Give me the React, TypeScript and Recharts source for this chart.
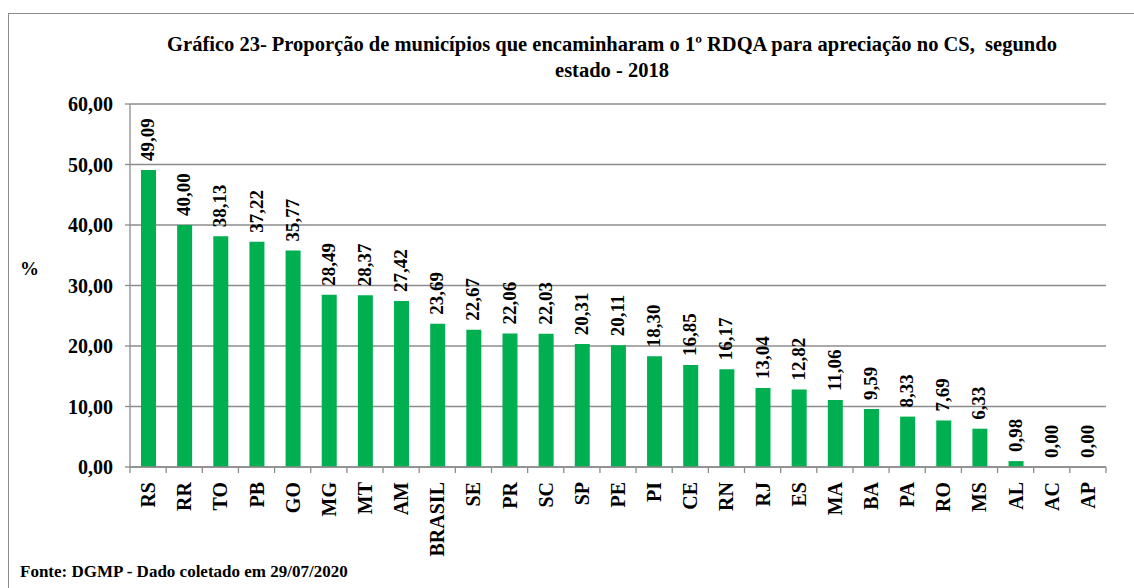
import React from 'react';
import { ComposedChart, Bar, Line, XAxis, YAxis, CartesianGrid } from 'recharts';

const estados = ['RS', 'RR', 'TO', 'PB', 'GO', 'MG', 'MT', 'AM', 'BRASIL', 'SE', 'PR', 'SC', 'SP', 'PE', 'PI', 'CE', 'RN', 'RJ', 'ES', 'MA', 'BA', 'PA', 'RO', 'MS', 'AL', 'AC', 'AP'];
const proporcao = [49.09, 40.0, 38.13, 37.22, 35.77, 28.49, 28.37, 27.42, 23.69, 22.67, 22.06, 22.03, 20.31, 20.11, 18.3, 16.85, 16.17, 13.04, 12.82, 11.06, 9.59, 8.33, 7.69, 6.33, 0.98, 0.0, 0.0];
const yTicks = [0, 10, 20, 30, 40, 50, 60];

const data = estados.map((uf, i) => ({ uf, valor: proporcao[i] }));

const fmt = (v: number) => v.toFixed(2).replace('.', ',');
const FONT = '"Liberation Serif", Tinos, "DejaVu Serif", serif';
const GRAY = '#8c8c8c';
const BAND = 976 / estados.length;

// rotated state label + tick mark on category boundary
const EstadoTick = (props: any) => {
  const { x, y, payload, index } = props;
  const last = index === estados.length - 1;
  return (
    <g>
      <line x1={x - BAND / 2} y1={y - 8} x2={x - BAND / 2} y2={y - 2} stroke={GRAY} strokeWidth={1.3} />
      {last && <line x1={x + BAND / 2} y1={y - 8} x2={x + BAND / 2} y2={y - 2} stroke={GRAY} strokeWidth={1.3} />}
      <text
        x={x + 7}
        y={y + 7}
        transform={`rotate(-90, ${x + 7}, ${y + 7})`}
        textAnchor="end"
        fontFamily={FONT}
        fontWeight="bold"
        fontSize={20}
        fill="#000"
      >
        {payload.value}
      </text>
    </g>
  );
};

// value label above each bar (drawn from an invisible line so zero values get one too)
const ValorLabel = (props: any) => {
  const { x, y, value } = props;
  const cx = x + 6;
  const cy = y - 9;
  return (
    <text
      x={cx}
      y={cy}
      transform={`rotate(-90, ${cx}, ${cy})`}
      textAnchor="start"
      fontFamily={FONT}
      fontWeight="bold"
      fontSize={19}
      fill="#000"
    >
      {fmt(Number(value))}
    </text>
  );
};

export default function App() {
  return (
    <div
      style={{
        position: 'fixed',
        left: 0,
        top: 0,
        width: 1134,
        height: 588,
        overflow: 'hidden',
        background: '#fff',
        fontFamily: FONT,
      }}
    >
      {/* chart frame (only top and left edges are visible) */}
      <div
        style={{
          position: 'absolute',
          left: 8,
          top: 13,
          width: 1200,
          height: 700,
          borderTop: `1.5px solid ${GRAY}`,
          borderLeft: `1.5px solid ${GRAY}`,
        }}
      />

      <div
        style={{
          position: 'absolute',
          left: 0,
          top: 31,
          width: 1224,
          textAlign: 'center',
          fontWeight: 'bold',
          fontSize: 20.5,
          lineHeight: '26px',
          color: '#000',
        }}
      >
        Gráfico 23- Proporção de municípios que encaminharam o 1º RDQA para apreciação no CS,&nbsp; segundo
        <br />
        estado - 2018
      </div>

      <div style={{ position: 'absolute', left: 20, top: 258, fontWeight: 'bold', fontSize: 19 }}>%</div>

      <div style={{ position: 'absolute', left: 20, top: 562, fontWeight: 'bold', fontSize: 17 }}>
        Fonte: DGMP - Dado coletado em 29/07/2020
      </div>

      <div style={{ position: 'absolute', left: 0, top: 0 }}>
        <ComposedChart width={1134} height={588} data={data} margin={{ top: 104, right: 28, bottom: 0, left: 0 }}>
          <CartesianGrid vertical={false} stroke={GRAY} strokeWidth={1.3} />
          <XAxis
            dataKey="uf"
            height={121}
            interval={0}
            axisLine={{ stroke: GRAY, strokeWidth: 1.3 }}
            tickLine={false}
            tick={<EstadoTick />}
          />
          <YAxis
            width={130}
            domain={[0, 60]}
            ticks={yTicks}
            interval={0}
            tickFormatter={fmt}
            axisLine={{ stroke: GRAY, strokeWidth: 1.3 }}
            tickLine={{ stroke: GRAY, strokeWidth: 1.3 }}
            tickSize={5}
            tickMargin={12}
            tick={{ fill: '#000', fontFamily: FONT, fontWeight: 'bold', fontSize: 20 }}
          />
          <Bar dataKey="valor" fill="#00B050" barSize={15} isAnimationActive={false} />
          <Line
            dataKey="valor"
            stroke="none"
            dot={false}
            activeDot={false}
            isAnimationActive={false}
            label={<ValorLabel />}
          />
        </ComposedChart>
      </div>
    </div>
  );
}
